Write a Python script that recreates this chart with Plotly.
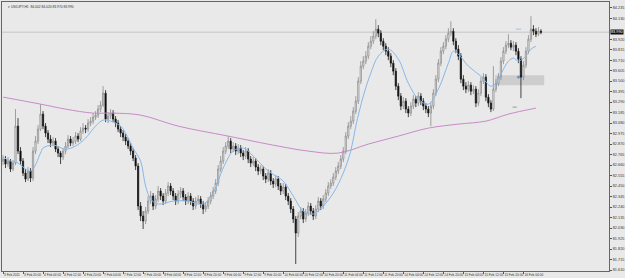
import plotly.graph_objects as go

# ---------------- data (USDJPY, H1) ----------------
CLOSE = [82.72,82.67,82.70,82.62,82.68,83.05,82.80,82.70,82.58,82.52,
         82.60,82.53,82.80,82.90,83.02,83.17,83.05,82.98,82.92,82.88,
         82.90,82.82,82.78,82.74,82.80,82.85,82.92,82.88,82.90,82.95,
         82.92,83.00,83.03,83.02,83.08,83.10,83.14,83.16,83.22,83.26,
         83.38,83.12,83.15,83.18,83.12,83.08,83.02,82.98,82.94,82.90,
         82.85,82.80,82.73,82.65,82.25,82.15,82.10,82.20,82.30,82.35,
         82.25,82.32,82.40,82.35,82.30,82.38,82.45,82.40,82.35,82.30,
         82.37,82.40,82.34,82.30,82.35,82.30,82.25,82.30,82.32,82.27,
         82.22,82.25,82.30,82.35,82.40,82.48,82.62,82.70,82.80,82.85,
         82.90,82.82,82.85,82.80,82.83,82.78,82.75,82.80,82.72,82.68,
         82.70,82.64,82.60,82.62,82.55,82.52,82.58,82.50,82.47,82.52,
         82.45,82.40,82.44,82.35,82.30,82.22,82.12,81.98,82.15,82.20,
         82.12,82.18,82.25,82.20,82.15,82.22,82.30,82.25,82.32,82.38,
         82.45,82.48,82.54,82.60,82.65,82.72,82.80,82.95,83.05,83.10,
         83.20,83.30,83.50,83.65,83.70,83.75,83.85,83.90,83.95,84.02,
         83.98,83.90,83.85,83.80,83.75,83.68,83.60,83.45,83.35,83.25,
         83.30,83.22,83.18,83.25,83.32,83.28,83.35,83.30,83.25,83.22,
         83.18,83.25,83.38,83.52,83.68,83.80,83.85,83.92,83.98,84.00,
         83.90,83.82,83.75,83.52,83.45,83.42,83.46,83.40,83.42,83.28,
         83.38,83.50,83.54,83.34,83.28,83.22,83.42,83.48,83.54,83.70,
         83.80,83.86,83.88,83.84,83.86,83.80,83.72,83.54,83.66,83.80,
         83.92,84.02,84.00,83.97,84.00,83.99]

OPEN = [82.70,82.72,82.67,82.70,82.62,82.68,83.05,82.80,82.70,82.58,
        82.52,82.60,82.53,82.80,82.90,83.02,83.17,83.05,82.98,82.92,
        82.88,82.90,82.82,82.78,82.74,82.80,82.85,82.92,82.88,82.90,
        82.95,82.92,83.00,83.03,83.02,83.08,83.10,83.14,83.16,83.22,
        83.26,83.38,83.12,83.15,83.18,83.12,83.08,83.02,82.98,82.94,
        82.90,82.85,82.80,82.73,82.65,82.25,82.15,82.10,82.20,82.30,
        82.35,82.25,82.32,82.40,82.35,82.30,82.38,82.45,82.40,82.35,
        82.30,82.37,82.40,82.34,82.30,82.35,82.30,82.25,82.30,82.32,
        82.27,82.22,82.25,82.30,82.35,82.40,82.48,82.62,82.70,82.80,
        82.85,82.90,82.82,82.85,82.80,82.83,82.78,82.75,82.80,82.72,
        82.68,82.70,82.64,82.60,82.62,82.55,82.52,82.58,82.50,82.47,
        82.52,82.45,82.40,82.44,82.35,82.30,82.22,82.12,81.98,82.15,
        82.20,82.12,82.18,82.25,82.20,82.15,82.22,82.30,82.25,82.32,
        82.38,82.45,82.48,82.54,82.60,82.65,82.72,82.80,82.95,83.05,
        83.10,83.20,83.30,83.50,83.65,83.70,83.75,83.85,83.90,83.95,
        84.02,83.98,83.90,83.85,83.80,83.75,83.68,83.60,83.45,83.35,
        83.25,83.30,83.22,83.18,83.25,83.32,83.28,83.35,83.30,83.25,
        83.22,83.18,83.25,83.38,83.52,83.68,83.80,83.85,83.92,83.98,
        84.00,83.90,83.82,83.75,83.52,83.45,83.42,83.46,83.40,83.42,
        83.28,83.38,83.50,83.54,83.34,83.28,83.22,83.42,83.48,83.54,
        83.70,83.80,83.86,83.88,83.84,83.86,83.80,83.72,83.54,83.66,
        83.80,83.92,84.02,84.00,83.97,84.00]

HIGH = [82.76,82.75,82.74,82.72,82.71,83.22,83.13,82.84,82.73,82.62,
        82.64,82.63,82.84,82.95,83.06,83.27,83.20,83.08,83.01,82.96,
        82.94,82.93,82.85,82.80,82.83,82.89,82.96,82.95,82.94,82.99,
        82.98,83.04,83.08,83.06,83.12,83.14,83.18,83.20,83.26,83.30,
        83.45,83.41,83.19,83.22,83.21,83.15,83.11,83.05,83.01,82.97,
        82.93,82.88,82.83,82.76,82.68,82.29,82.20,82.24,82.35,82.40,
        82.38,82.36,82.45,82.43,82.38,82.42,82.49,82.48,82.43,82.38,
        82.41,82.44,82.43,82.37,82.39,82.38,82.33,82.34,82.36,82.35,
        82.30,82.29,82.34,82.39,82.44,82.52,82.66,82.75,82.84,82.89,
        82.95,82.93,82.89,82.88,82.87,82.86,82.81,82.84,82.83,82.75,
        82.74,82.73,82.67,82.66,82.65,82.58,82.62,82.61,82.53,82.56,
        82.55,82.48,82.48,82.47,82.38,82.33,82.25,82.15,82.19,82.24,
        82.23,82.22,82.29,82.28,82.23,82.26,82.34,82.33,82.36,82.42,
        82.49,82.52,82.58,82.64,82.69,82.76,82.84,82.99,83.09,83.15,
        83.24,83.35,83.54,83.70,83.75,83.80,83.89,83.95,84.00,84.12,
        84.06,84.01,83.93,83.88,83.84,83.78,83.71,83.63,83.48,83.38,
        83.34,83.33,83.25,83.29,83.36,83.35,83.39,83.38,83.33,83.28,
        83.25,83.29,83.42,83.56,83.72,83.84,83.89,83.96,84.03,84.10,
        84.03,83.93,83.86,83.78,83.56,83.49,83.50,83.49,83.46,83.45,
        83.42,83.54,83.58,83.57,83.37,83.31,83.65,83.52,83.58,83.74,
        83.84,83.90,83.97,83.91,83.90,83.89,83.83,83.75,83.70,83.84,
        83.96,84.15,84.06,84.03,84.04,84.02]

LOW = [82.66,82.63,82.64,82.59,82.60,82.66,82.77,82.66,82.55,82.49,
       82.50,82.49,82.50,82.77,82.87,83.00,83.02,82.94,82.88,82.84,
       82.85,82.79,82.74,82.67,82.71,82.77,82.83,82.85,82.85,82.87,
       82.89,82.90,82.97,82.98,82.99,83.05,83.07,83.11,83.13,83.19,
       83.24,83.09,83.08,83.12,83.09,83.04,82.99,82.94,82.90,82.86,
       82.82,82.76,82.70,82.61,82.21,82.10,82.02,82.07,82.17,82.27,
       82.21,82.22,82.29,82.31,82.26,82.27,82.35,82.36,82.31,82.26,
       82.27,82.33,82.30,82.26,82.27,82.26,82.21,82.22,82.27,82.23,
       82.17,82.19,82.22,82.27,82.32,82.37,82.45,82.59,82.67,82.77,
       82.82,82.78,82.79,82.76,82.77,82.74,82.71,82.72,82.68,82.64,
       82.65,82.60,82.56,82.57,82.51,82.48,82.49,82.46,82.43,82.44,
       82.41,82.36,82.37,82.31,82.26,82.18,82.08,81.67,81.94,82.12,
       82.08,82.09,82.15,82.16,82.11,82.12,82.19,82.21,82.22,82.29,
       82.35,82.42,82.45,82.51,82.57,82.62,82.69,82.77,82.92,83.02,
       83.07,83.17,83.27,83.47,83.62,83.67,83.72,83.82,83.87,83.92,
       83.94,83.86,83.81,83.76,83.71,83.64,83.56,83.41,83.31,83.21,
       83.22,83.18,83.14,83.15,83.22,83.24,83.25,83.26,83.21,83.18,
       83.14,83.05,83.22,83.35,83.49,83.65,83.77,83.82,83.89,83.95,
       83.86,83.78,83.71,83.48,83.41,83.38,83.39,83.36,83.37,83.24,
       83.25,83.35,83.47,83.30,83.24,83.19,83.20,83.39,83.45,83.51,
       83.67,83.77,83.83,83.81,83.80,83.76,83.68,83.33,83.51,83.63,
       83.77,83.89,83.96,83.94,83.95,83.97]

BAR = list(range(len(CLOSE)))

# fast moving average (light blue), read at selected bars
MA_FAST_BAR = [0,3,6,11,15,16,20,25,29,33,37,40,43,47,49,52,55,57,59,62,68,74,80,84,88,92,96,100,
               106,112,116,120,124,128,132,136,139,141,144,147,150,154,158,162,166,170,174,178,
               180,182,186,191,195,197,199,202,204,206,209,211,213]
MA_FAST = [82.74,82.70,82.68,82.60,82.78,82.83,82.86,82.82,82.85,82.93,83.05,83.11,83.10,83.05,
           82.98,82.83,82.70,82.45,82.32,82.27,82.30,82.30,82.27,82.38,82.63,82.80,82.83,82.75,
           82.60,82.50,82.35,82.20,82.17,82.25,82.38,82.58,82.80,83.05,83.35,83.58,83.75,83.82,
           83.72,83.48,83.32,83.27,83.42,83.68,83.80,83.77,83.65,83.55,83.45,83.48,83.57,83.70,
           83.73,83.70,83.75,83.82,83.85]

# slow moving average (violet)
MA_SLOW_BAR = [0,15,25,36,44,55,70,90,110,122,134,146,158,170,182,193,202,213]
MA_SLOW = [83.34,83.27,83.22,83.18,83.18,83.16,83.05,82.95,82.85,82.80,82.78,82.87,82.95,
           83.03,83.07,83.10,83.17,83.23]

# small chart objects (dashes / dot) near the last swing
MARK_BAR = [206.0, 204.5, 206.0]
MARK_PRICE = [84.02, 83.24, 83.54]
MARK_COLOR = ["#86b8ea", "#777777", "#3a6fd8"]
MARK_SYMBOL = ["line-ew", "line-ew", "circle"]

# time-axis labels (every 8 bars)
X_TICK_BARS = [0,8,16,24,32,40,48,56,64,72,80,88,96,104,112,120,128,136,144,152,160,168,176,184,192,200,208]
X_TICK_TEXT = ["3 Feb 2011","3 Feb 20:00","4 Feb 04:00","4 Feb 12:00","4 Feb 20:00",
               "7 Feb 04:00","7 Feb 12:00","7 Feb 20:00","8 Feb 04:00","8 Feb 12:00",
               "8 Feb 20:00","9 Feb 04:00","9 Feb 12:00","9 Feb 20:00","10 Feb 04:00",
               "10 Feb 12:00","10 Feb 20:00","11 Feb 04:00","11 Feb 12:00","11 Feb 20:00",
               "14 Feb 04:00","14 Feb 12:00","14 Feb 20:00","15 Feb 04:00","15 Feb 12:00",
               "15 Feb 20:00","16 Feb 04:00"]

# price-axis labels (the one under the bid box is covered in the original)
Y_TICKS = [84.235,84.130,83.920,83.815,83.710,83.605,83.500,83.395,83.290,83.185,
           83.080,82.975,82.870,82.765,82.660,82.555,82.450,82.345,82.240,82.135,82.030,
           81.925,81.820,81.715,81.610]
Y_TICK_TEXT = ["84.235","84.130","83.920","83.815","83.710","83.605","83.500","83.395",
               "83.290","83.185","83.080","82.975","82.870","82.765","82.660","82.555",
               "82.450","82.345","82.240","82.135","82.030","81.925","81.820","81.715","81.610"]

BID = 83.99
BID_TEXT = "83.990"
TITLE = "\u25be USDJPY,H1  84.002 84.020 83.970 83.990"

# support zone (grey rectangle) in bar / price units
ZONE_X = [196.7, 216.3]
ZONE_Y = [83.46, 83.56]

BG = "#e9e9e9"
FONT = "Liberation Sans"

fig = go.Figure()

fig.add_shape(type="rect", xref="x", yref="y", x0=ZONE_X[0], x1=ZONE_X[1],
              y0=ZONE_Y[0], y1=ZONE_Y[1], fillcolor="#cdcdcd", line=dict(width=0),
              layer="below")
fig.add_shape(type="line", xref="paper", yref="y", x0=0, x1=1, y0=BID, y1=BID,
              line=dict(color="#c6c6c6", width=1), layer="below")

fig.add_trace(go.Scatter(x=MA_SLOW_BAR, y=MA_SLOW, mode="lines",
                         line=dict(color="#c98ac9", width=1, shape="spline"),
                         hoverinfo="skip", showlegend=False))

fig.add_trace(go.Candlestick(
    x=BAR, open=OPEN, high=HIGH, low=LOW, close=CLOSE,
    increasing=dict(line=dict(color="#8a8a8a", width=0.8), fillcolor="#ffffff"),
    decreasing=dict(line=dict(color="#1a1a1a", width=0.8), fillcolor="#000000"),
    whiskerwidth=0, showlegend=False))

fig.add_trace(go.Scatter(x=MA_FAST_BAR, y=MA_FAST, mode="lines",
                         line=dict(color="#86b8ea", width=1, shape="spline"),
                         hoverinfo="skip", showlegend=False))

fig.add_trace(go.Scatter(x=MARK_BAR, y=MARK_PRICE, mode="markers",
                         marker=dict(symbol=MARK_SYMBOL, size=[4, 3, 2], color=MARK_COLOR,
                                     line=dict(color=MARK_COLOR, width=1)),
                         hoverinfo="skip", showlegend=False))

fig.add_annotation(xref="paper", yref="paper", x=0.006, y=0.997, xanchor="left",
                   yanchor="top", text=TITLE, showarrow=False,
                   font=dict(size=3.3, color="#333333", family=FONT))

fig.add_annotation(xref="paper", yref="y", x=1.0, y=BID, xanchor="left", yanchor="middle",
                   text=BID_TEXT, showarrow=False, bgcolor="#111111",
                   font=dict(size=3.8, color="#ffffff", family=FONT),
                   borderpad=0, xshift=1)

fig.update_layout(
    width=625, height=278,
    margin=dict(l=2, r=14, t=1, b=7),
    paper_bgcolor=BG, plot_bgcolor=BG,
    showlegend=False,
    xaxis=dict(range=[-0.4, 242.2], tickmode="array", tickvals=X_TICK_BARS,
               ticktext=X_TICK_TEXT, ticks="outside", ticklen=2, tickcolor="#555555",
               tickangle=0,
               tickfont=dict(size=3.2, color="#333333", family=FONT),
               ticklabelposition="outside right",
               showgrid=False, zeroline=False, rangeslider=dict(visible=False),
               showline=True, linecolor="#666666", linewidth=1, mirror=True),
    yaxis=dict(range=[81.600, 84.292], side="right", tickmode="array", tickvals=Y_TICKS,
               ticktext=Y_TICK_TEXT, ticks="outside", ticklen=2, tickcolor="#555555",
               tickfont=dict(size=3.8, color="#333333", family=FONT),
               showgrid=False, zeroline=False,
               showline=True, linecolor="#666666", linewidth=1, mirror=True),
)

fig.write_html("out.html")
